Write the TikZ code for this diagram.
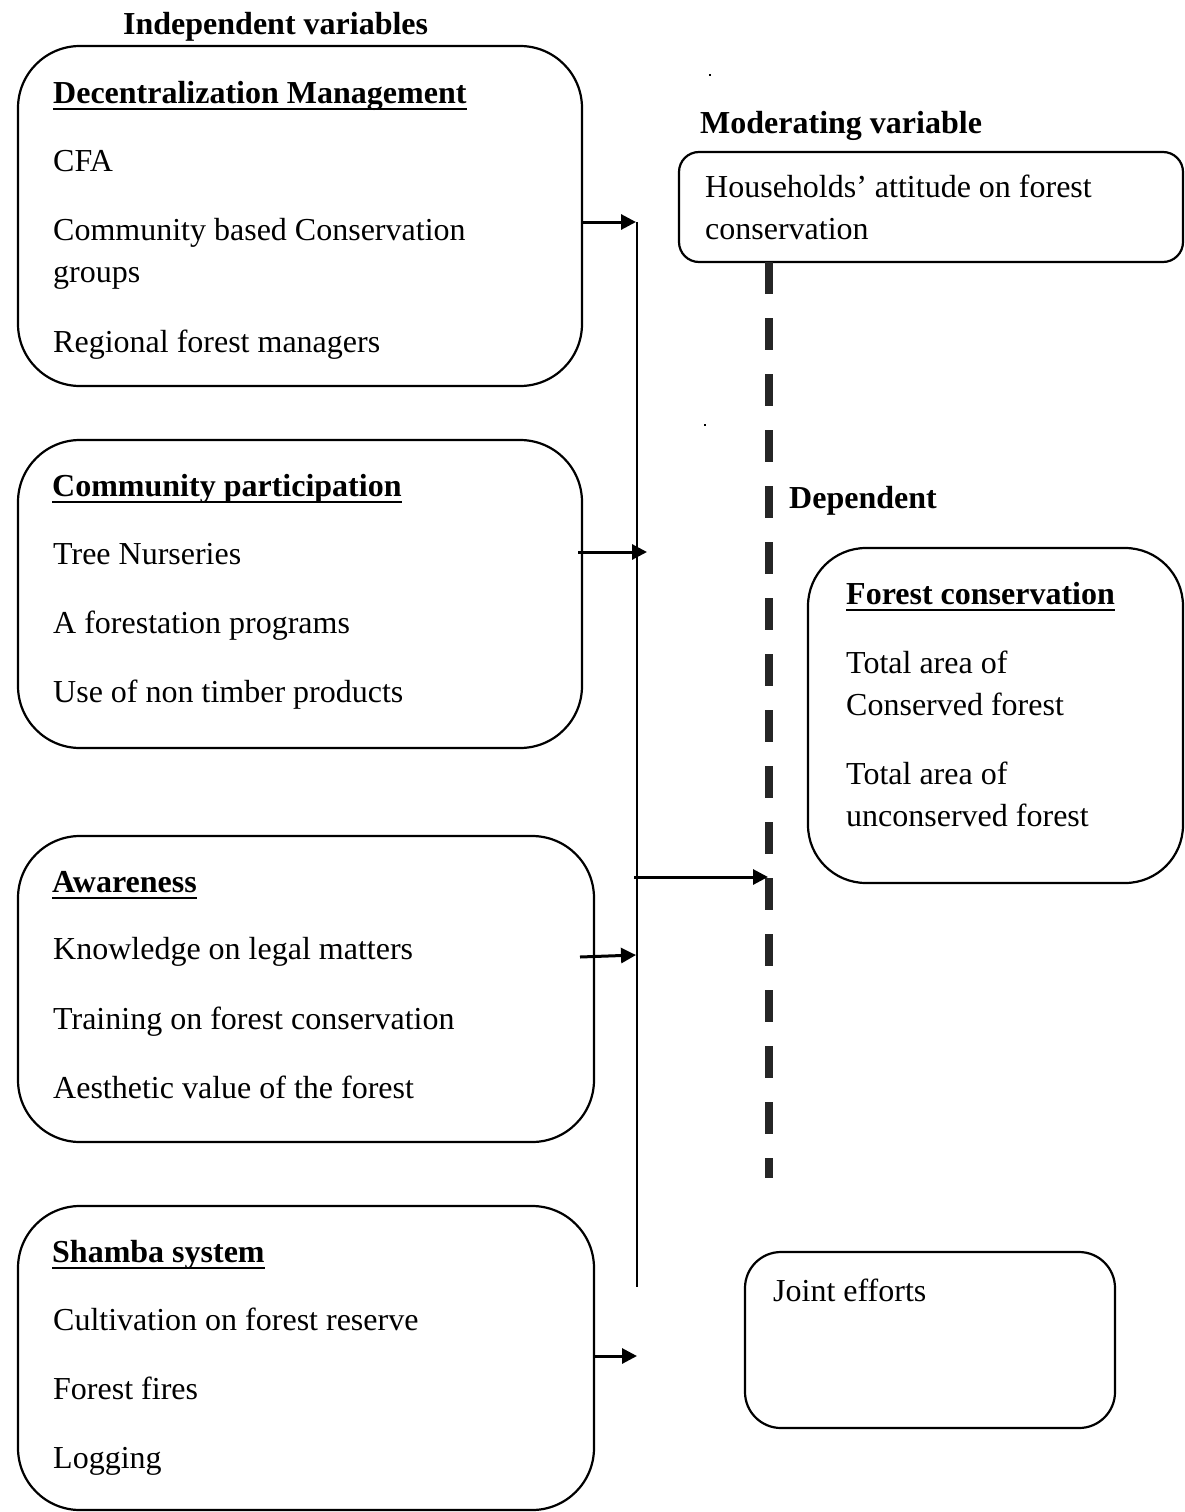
\documentclass[tikz,border=0pt]{standalone}
\usepackage{fontspec}
\setmainfont{Liberation Serif}
\usetikzlibrary{arrows.meta}
\begin{document}
\begin{tikzpicture}[x=1pt,y=-1pt,
  every node/.style={font=\fontsize{32}{42}\selectfont},
  txt/.style={anchor=base west,inner sep=0pt,align=left},
  hd/.style={anchor=base west,inner sep=0pt,font=\fontsize{32}{42}\selectfont\bfseries},
  box/.style={draw,line width=2.2pt,rectangle,inner sep=0pt},
  arr/.style={line width=3pt,-{Triangle[length=15pt,width=15pt]}},
  uline/.style={line width=2.2pt}
]
\useasboundingbox (0,0) rectangle (1185,1512);
% boxes
\node[box,minimum width=564pt,minimum height=340pt,rounded corners=62pt] (b1) at (300,216) {};
\node[box,minimum width=564pt,minimum height=308pt,rounded corners=62pt] (b2) at (300,594) {};
\node[box,minimum width=576pt,minimum height=306pt,rounded corners=62pt] (b3) at (306,989) {};
\node[box,minimum width=576pt,minimum height=304pt,rounded corners=62pt] (b4) at (306,1358) {};
\node[box,minimum width=504pt,minimum height=110pt,rounded corners=20pt] (hh) at (931,207) {};
\node[box,minimum width=375pt,minimum height=335pt,rounded corners=58pt] (fc) at (995.5,715.5) {};
\node[box,minimum width=370pt,minimum height=176pt,rounded corners=36pt] (je) at (930,1340) {};
% titles
\node[hd] (t1) at (123,35) {Independent variables};
\node[hd] (t2) at (700,133) {Moderating variable};
\node[hd] (t3) at (789,508) {Dependent};
% box 1
\node[hd] (h1) at (53,103) {Decentralization Management};
\draw[uline] ([yshift=-6pt]h1.base west) -- ([yshift=-6pt]h1.base east);
\node[txt] (a1) at (53,171) {CFA};
\node[txt] (a2) at (53,282) {Community based Conservation\\groups};
\node[txt] (a3) at (53,352) {Regional forest managers};
% box 2
\node[hd] (h2) at (52,496) {Community participation};
\draw[uline] ([yshift=-6pt]h2.base west) -- ([yshift=-6pt]h2.base east);
\node[txt] (c1) at (53,564) {Tree Nurseries};
\node[txt] (c2) at (53,633) {A forestation programs};
\node[txt] (c3) at (53,702) {Use of non timber products};
% box 3
\node[hd] (h3) at (52,892) {Awareness};
\draw[uline] ([yshift=-6pt]h3.base west) -- ([yshift=-6pt]h3.base east);
\node[txt] (w1) at (53,959) {Knowledge on legal matters};
\node[txt] (w2) at (53,1029) {Training on forest conservation};
\node[txt] (w3) at (53,1098) {Aesthetic value of the forest};
% box 4
\node[hd] (h4) at (52,1262) {Shamba system};
\draw[uline] ([yshift=-6pt]h4.base west) -- ([yshift=-6pt]h4.base east);
\node[txt] (s1) at (53,1330) {Cultivation on forest reserve};
\node[txt] (s2) at (53,1399) {Forest fires};
\node[txt] (s3) at (53,1468) {Logging};
% households
\node[txt] (m1) at (705,239) {Households’ attitude on forest\\conservation};
% forest conservation
\node[hd] (h5) at (846,604) {Forest conservation};
\draw[uline] ([yshift=-6pt]h5.base west) -- ([yshift=-6pt]h5.base east);
\node[txt] (f1) at (846,715) {Total area of\\Conserved forest};
\node[txt] (f2) at (846,826) {Total area of\\unconserved forest};
% joint
\node[txt] (j1) at (773,1301) {Joint efforts};
% connectors
\coordinate (vtop) at (637,222);
\coordinate (vbot) at (637,1287);
\draw[line width=2.4pt] (vtop) -- (vbot);
\coordinate (e1) at (b1.east |- vtop);
\draw[arr] (e1) -- ([xshift=-1pt]vtop);
\coordinate (e2s) at (578,552);
\coordinate (e2t) at (647,552);
\draw[arr] (e2s) -- (e2t);
\coordinate (dtop) at (769,262);
\coordinate (dbot) at (769,1178);
\draw[line width=8pt,color=black!85,dash pattern=on 32pt off 24pt] (dtop) -- (dbot);
\coordinate (e3s) at (634,877);
\coordinate (e3t) at (768,877);
\draw[arr] (e3s) -- (e3t);
\coordinate (e4s) at (580,957);
\coordinate (e4t) at (636,955);
\draw[arr] (e4s) -- (e4t);
\coordinate (e5s) at (b4.east |- 0,1356);
\coordinate (e5t) at (637,1356);
\draw[arr] (e5s) -- (e5t);
% specks
\fill (709,74) rectangle (711,76);
\fill (704,424) rectangle (706,426);
\end{tikzpicture}
\end{document}
